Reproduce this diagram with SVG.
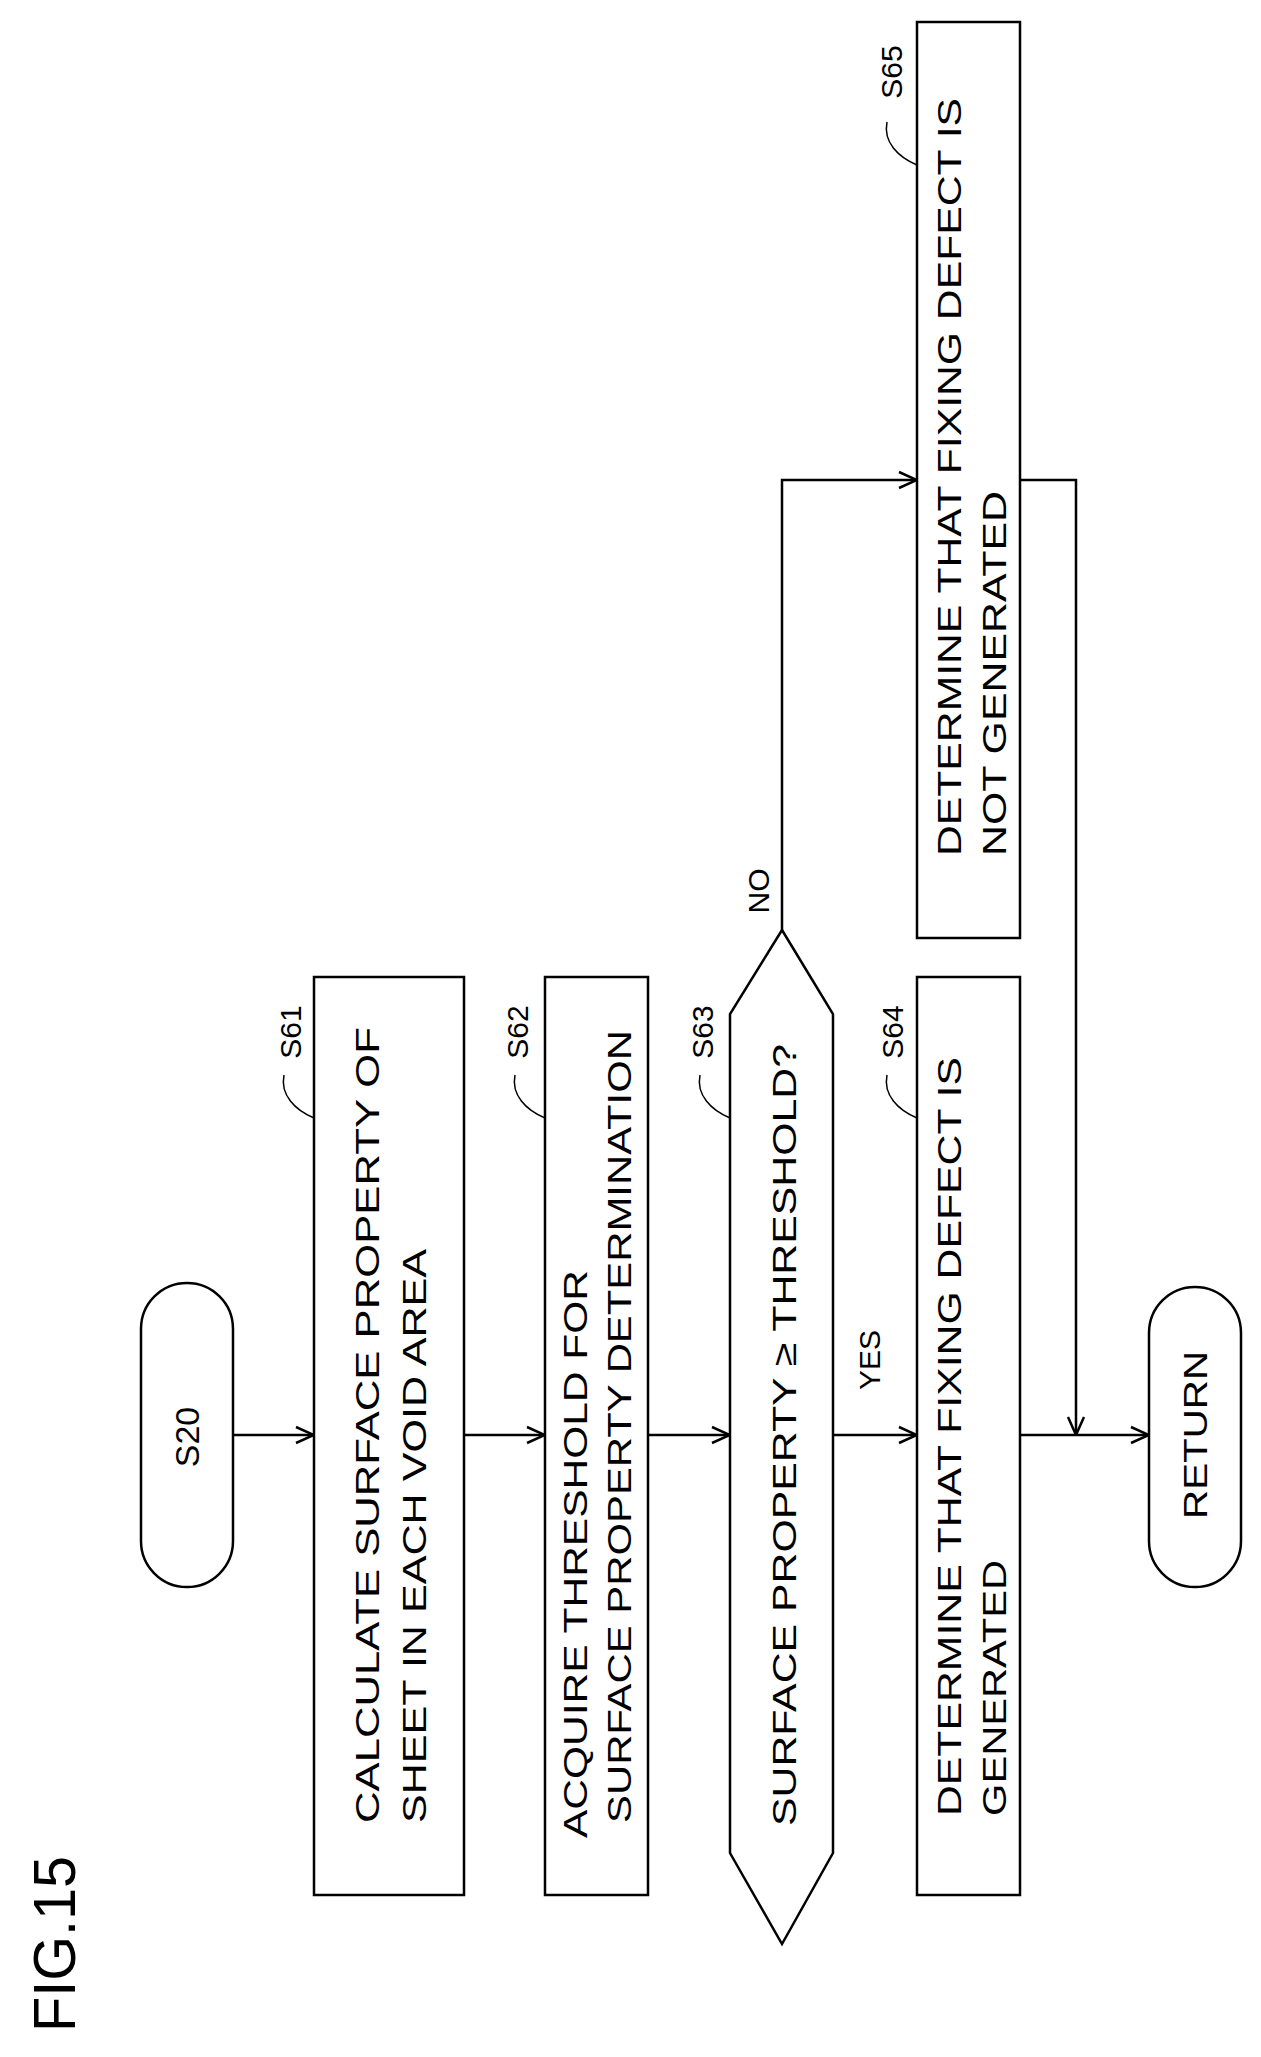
<svg xmlns="http://www.w3.org/2000/svg" width="1261" height="2057" viewBox="0 0 1261 2057">
<style>
.s{fill:#fff;stroke:#000;stroke-width:2.5}
.l{fill:none;stroke:#000;stroke-width:2.5}
.t{font-family:"Liberation Sans",Arial,sans-serif;font-size:34px;fill:#000}
.lab{font-family:"Liberation Sans",Arial,sans-serif;font-size:30px;fill:#000;text-anchor:middle}
.ld{fill:none;stroke:#000;stroke-width:1.5}
</style>
<defs>
<marker id="a" viewBox="0 0 20 20" refX="20" refY="10" markerWidth="20" markerHeight="20" markerUnits="userSpaceOnUse" orient="auto">
<path d="M2,2 L20,10 L2,18" fill="none" stroke="#000" stroke-width="2.5"/>
</marker>
</defs>
<rect width="1261" height="2057" fill="#fff"/>
<text class="t" transform="translate(75,2032) rotate(-90)" style="font-size:60px" textLength="176" lengthAdjust="spacingAndGlyphs">FIG.15</text>
<g id="connectors">
<path class="l" d="M233,1435 H314" marker-end="url(#a)"/>
<path class="l" d="M464,1435 H545" marker-end="url(#a)"/>
<path class="l" d="M648,1435 H730" marker-end="url(#a)"/>
<path class="l" d="M833,1435 H917" marker-end="url(#a)"/>
<path class="l" d="M1020,1435 H1149" marker-end="url(#a)"/>
<path class="l" d="M782,930 V480 H917" marker-end="url(#a)"/>
<path class="l" d="M1020,480 H1076 V1435" marker-end="url(#a)"/>
<text class="lab" transform="translate(880,1360) rotate(-90)">YES</text>
<text class="lab" transform="translate(769,891) rotate(-90)">NO</text>
</g>
<g id="S20">
<rect class="s" x="141" y="1283" width="92" height="304" rx="46"/>
<text class="lab" style="font-size:34px" transform="translate(199,1437) rotate(-90)">S20</text>
</g>
<g id="S61">
<rect class="s" x="314" y="977" width="150" height="918"/>
<text class="t" transform="translate(379,1823) rotate(-90)" textLength="796" lengthAdjust="spacingAndGlyphs">CALCULATE SURFACE PROPERTY OF</text>
<text class="t" transform="translate(426,1823) rotate(-90)" textLength="574" lengthAdjust="spacingAndGlyphs">SHEET IN EACH VOID AREA</text>
<path class="ld" d="M314,1118 C295,1110 280,1095 284,1075"/>
<text class="lab" transform="translate(301,1032) rotate(-90)">S61</text>
</g>
<g id="S62">
<rect class="s" x="545" y="977" width="103" height="918"/>
<text class="t" transform="translate(587,1838) rotate(-90)" textLength="568" lengthAdjust="spacingAndGlyphs">ACQUIRE THRESHOLD FOR</text>
<text class="t" transform="translate(631,1823) rotate(-90)" textLength="793" lengthAdjust="spacingAndGlyphs">SURFACE PROPERTY DETERMINATION</text>
<path class="ld" d="M545,1118 C526,1110 511,1095 515,1075"/>
<text class="lab" transform="translate(528,1032) rotate(-90)">S62</text>
</g>
<g id="S63">
<polygon class="s" points="782,930 833,1014 833,1853 782,1944 730,1853 730,1014"/>
<text class="t" transform="translate(796,1826) rotate(-90)" textLength="782" lengthAdjust="spacingAndGlyphs">SURFACE PROPERTY ≥ THRESHOLD?</text>
<path class="ld" d="M730,1118 C711,1110 696,1095 700,1075"/>
<text class="lab" transform="translate(713,1032) rotate(-90)">S63</text>
</g>
<g id="S64">
<rect class="s" x="917" y="977" width="103" height="918"/>
<text class="t" transform="translate(961,1816) rotate(-90)" textLength="759" lengthAdjust="spacingAndGlyphs">DETERMINE THAT FIXING DEFECT IS</text>
<text class="t" transform="translate(1006,1816) rotate(-90)" textLength="256" lengthAdjust="spacingAndGlyphs">GENERATED</text>
<path class="ld" d="M917,1118 C898,1110 883,1095 887,1075"/>
<text class="lab" transform="translate(903,1032) rotate(-90)">S64</text>
</g>
<g id="S65">
<rect class="s" x="917" y="22" width="103" height="916"/>
<text class="t" transform="translate(961,856) rotate(-90)" textLength="758" lengthAdjust="spacingAndGlyphs">DETERMINE THAT FIXING DEFECT IS</text>
<text class="t" transform="translate(1006,856) rotate(-90)" textLength="365" lengthAdjust="spacingAndGlyphs">NOT GENERATED</text>
<path class="ld" d="M917,165 C898,157 883,142 887,122"/>
<text class="lab" transform="translate(902,72) rotate(-90)">S65</text>
</g>
<g id="RETURN">
<rect class="s" x="1149" y="1287" width="92" height="300" rx="46"/>
<text class="lab" style="font-size:34px" transform="translate(1207,1435) rotate(-90)" textLength="168" lengthAdjust="spacingAndGlyphs">RETURN</text>
</g>
</svg>
